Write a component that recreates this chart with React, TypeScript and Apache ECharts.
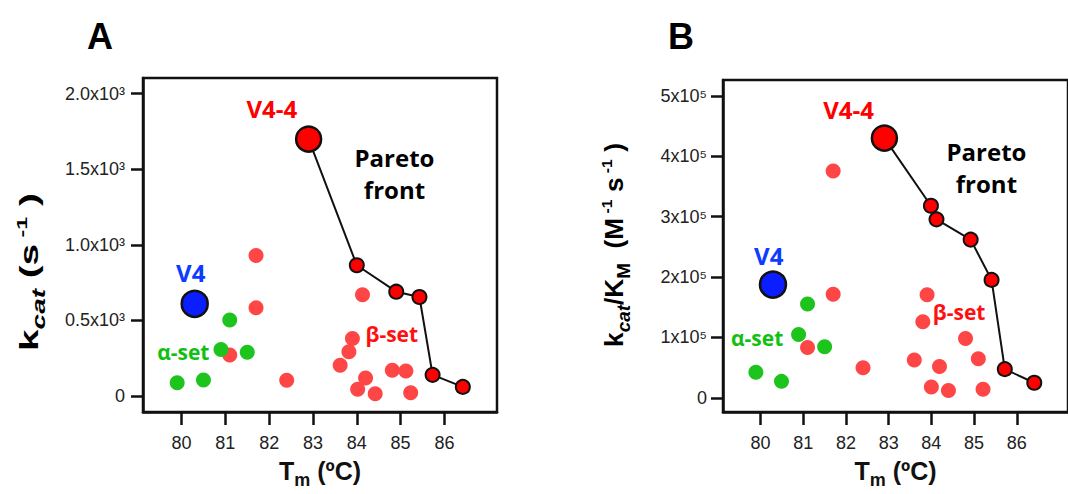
import React, { useEffect, useRef } from "react";
import * as echarts from "echarts";

// ---- data ----
const xTicks = [80, 81, 82, 83, 84, 85, 86];
const yTicksA = [0, 500, 1000, 1500, 2000];
const yTicksB = [0, 100000, 200000, 300000, 400000, 500000];

// Panel A: kcat (s^-1)
const tmParetoA = [82.9, 84.0, 84.9, 85.43, 85.73, 86.42];
const kcatParetoA = [1700, 865, 690, 655, 140, 60];
const tmV4A = [80.3];
const kcatV4A = [610];
const tmAlphaA = [79.9, 80.5, 80.9, 81.1, 81.5];
const kcatAlphaA = [87, 106, 308, 503, 290];
const tmBetaA = [81.7, 81.7, 81.1, 82.4, 84.13, 83.9, 83.82, 83.62, 84.2, 84.02, 84.42, 84.81, 85.12, 85.23];
const kcatBetaA = [930, 583, 271, 104, 670, 380, 293, 204, 119, 44, 15, 171, 165, 22];

// Panel B: kcat/KM (M^-1 s^-1)
const tmParetoB = [82.9, 83.99, 84.12, 84.92, 85.41, 85.72, 86.41];
const effParetoB = [430000, 318000, 295500, 262000, 195300, 47500, 25000];
const tmV4B = [80.29];
const effV4B = [187600];
const tmAlphaB = [79.89, 80.49, 80.89, 81.1, 81.5];
const effAlphaB = [42500, 27300, 104700, 155400, 84600];
const tmBetaB = [81.7, 81.7, 81.1, 82.4, 83.9, 83.8, 83.6, 84.19, 84.0, 84.4, 84.8, 85.1, 85.21];
const effBetaB = [375700, 171700, 83400, 49700, 170700, 126000, 62800, 51800, 18000, 12100, 98100, 64900, 14200];

// annotations: [label, x, y, colour]
const notesA: [string, number, number, string][] = [
  ["V4-4", 82.06, 1900, "#ff0000"],
  ["V4", 80.21, 819, "#0d3bff"],
  ["Pareto\nfront", 84.86, 1470, "#000000"],
  ["α-set", 80.04, 292, "#12c012"],
  ["β-set", 84.8, 412, "#ff1010"],
];
const notesB: [string, number, number, string][] = [
  ["V4-4", 82.06, 478000, "#ff0000"],
  ["V4", 80.19, 236000, "#0d3bff"],
  ["Pareto\nfront", 85.29, 381000, "#000000"],
  ["α-set", 79.92, 99800, "#12c012"],
  ["β-set", 84.65, 141800, "#ff1010"],
];

const zip = (a: number[], b: number[]) => a.map((v, i) => [v, b[i]]);

const AX = "Liberation Sans";
const NOTE_FONT = "Open Sans";

const titleRich = {
  b: { fontSize: 25, fontWeight: "bold", color: "#111", fontFamily: AX, verticalAlign: "bottom", padding: [0, 0, 6, 0] },
  sub: { fontSize: 18, fontWeight: "bold", color: "#111", fontFamily: AX, verticalAlign: "bottom" },
  subi: { fontSize: 18, fontWeight: "bold", fontStyle: "italic", color: "#111", fontFamily: AX, verticalAlign: "bottom" },
  sup: { fontSize: 15, fontWeight: "bold", color: "#111", fontFamily: AX, verticalAlign: "bottom", padding: [0, 0, 18, 0] },
};

function xAxisFor(gridIndex: number) {
  return {
    type: "value",
    gridIndex,
    min: 79.12,
    max: 87.2,
    axisLine: { show: true, onZero: false, lineStyle: { color: "#111", width: 2.5 } },
    axisTick: { show: true, customValues: xTicks, length: 13, lineStyle: { color: "#111", width: 2.5 } },
    axisLabel: { show: true, customValues: xTicks, fontSize: 18, color: "#222", fontFamily: AX, margin: 22 },
    splitLine: { show: false },
    name: "{b|T}{sub|m}{b| (ºC)}",
    nameLocation: "middle",
    nameGap: 46,
    nameTextStyle: { rich: titleRich, fontSize: 25, fontWeight: "bold", fontFamily: AX },
  };
}

function yAxisFor(gridIndex: number, min: number, max: number, ticks: number[], fmt: (v: number) => string, margin: number) {
  return {
    type: "value",
    gridIndex,
    min,
    max,
    axisLine: { show: true, onZero: false, lineStyle: { color: "#111", width: 2.5 } },
    axisTick: { show: true, customValues: ticks, length: 12, lineStyle: { color: "#111", width: 2.5 } },
    axisLabel: {
      show: true,
      customValues: ticks,
      formatter: fmt,
      fontSize: 18,
      fontFamily: AX,
      color: "#222",
      margin,
      padding: [6, 0, 0, 0],
    },
    splitLine: { show: false },
  };
}

function seriesFor(idx: number, pareto: number[][], v4: number[][], alpha: number[][], beta: number[][], notes: [string, number, number, string][]) {
  return [
    {
      type: "scatter",
      xAxisIndex: idx,
      yAxisIndex: idx,
      data: beta,
      symbolSize: 15,
      itemStyle: { color: "#ff4646", opacity: 1 },
      z: 2,
    },
    {
      type: "scatter",
      xAxisIndex: idx,
      yAxisIndex: idx,
      data: alpha,
      symbolSize: 15,
      itemStyle: { color: "#1ec41e", opacity: 1 },
      z: 3,
    },
    {
      type: "line",
      xAxisIndex: idx,
      yAxisIndex: idx,
      data: pareto.map((p, i) => (i === 0 ? { value: p, symbolSize: 25, itemStyle: { borderWidth: 2.5 } } : { value: p })),
      symbol: "circle",
      symbolSize: 14,
      showAllSymbol: true,
      lineStyle: { color: "#111", width: 2 },
      itemStyle: { color: "#ff0000", borderColor: "#111", borderWidth: 2, opacity: 1 },
      z: 5,
    },
    {
      type: "scatter",
      xAxisIndex: idx,
      yAxisIndex: idx,
      data: v4,
      symbolSize: 26,
      itemStyle: { color: "#0a1eff", borderColor: "#111", borderWidth: 2.5, opacity: 1 },
      z: 5,
    },
    {
      type: "scatter",
      xAxisIndex: idx,
      yAxisIndex: idx,
      symbolSize: 0,
      silent: true,
      itemStyle: { opacity: 1 },
      z: 6,
      data: notes.map(([t, x, y, c]) => ({
        value: [x, y],
        name: t,
        label: {
          show: true,
          position: "inside",
          formatter: t,
          color: c,
          opacity: 1,
          textBorderWidth: 0,
          fontFamily: NOTE_FONT,
          fontWeight: "bold",
          fontSize: t.indexOf("set") >= 0 ? 21 : 24,
          lineHeight: 32,
          align: "center",
          verticalAlign: "middle",
        },
      })),
    },
  ];
}

export default function App() {
  const ref = useRef<HTMLDivElement>(null);
  useEffect(() => {
    if (!ref.current) return;
    const chart = echarts.init(ref.current, undefined, { renderer: "svg" });
    const fmtA = (v: number) => (v === 0 ? "0" : `${(v / 1000).toFixed(1)}x10³`);
    const fmtB = (v: number) => (v === 0 ? "0" : `${Math.round(v / 100000)}x10⁵`);
    const option: any = {
      animation: false,
      backgroundColor: "#ffffff",
      grid: [
        { left: 143, top: 78, width: 354, height: 340, show: true, borderColor: "#111", borderWidth: 2.5, backgroundColor: "transparent" },
        { left: 723, top: 80, width: 354, height: 336, show: true, borderColor: "#111", borderWidth: 2.5, backgroundColor: "transparent" },
      ],
      xAxis: [xAxisFor(0), xAxisFor(1)],
      yAxis: [
        yAxisFor(0, -106, 2104, yTicksA, fmtA, 18),
        yAxisFor(1, -23400, 526200, yTicksB, fmtB, 16),
      ],
      series: [
        ...seriesFor(0, zip(tmParetoA, kcatParetoA), zip(tmV4A, kcatV4A), zip(tmAlphaA, kcatAlphaA), zip(tmBetaA, kcatBetaA), notesA),
        ...seriesFor(1, zip(tmParetoB, effParetoB), zip(tmV4B, effV4B), zip(tmAlphaB, effAlphaB), zip(tmBetaB, effBetaB), notesB),
      ],
      graphic: [
        { type: "text", x: 100, y: 36, style: { text: "A", font: "bold 36px Liberation Sans", fill: "#000", align: "center", verticalAlign: "middle" } },
        { type: "text", x: 681, y: 36, style: { text: "B", font: "bold 36px Liberation Sans", fill: "#000", align: "center", verticalAlign: "middle" } },
        {
          type: "text",
          x: 31,
          y: 272,
          rotation: Math.PI / 2,
          scaleX: 1.55,
          style: {
            text: "{b|k}{subi|cat}{b| (s}{sup| -1}{b| )}",
            rich: titleRich,
            align: "center",
            verticalAlign: "middle",
          },
        },
        {
          type: "text",
          x: 616,
          y: 245,
          rotation: Math.PI / 2,
          scaleX: 1.05,
          style: {
            text: "{b|k}{subi|cat}{b|/K}{sub|M}{b|  (M}{sup| -1}{b| s}{sup| -1}{b| )}",
            rich: titleRich,
            align: "center",
            verticalAlign: "middle",
          },
        },
      ],
    };
    chart.setOption(option);
    return () => chart.dispose();
  }, []);
  return <div ref={ref} style={{ position: "absolute", left: 0, top: 0, width: 1068, height: 494 }} />;
}
